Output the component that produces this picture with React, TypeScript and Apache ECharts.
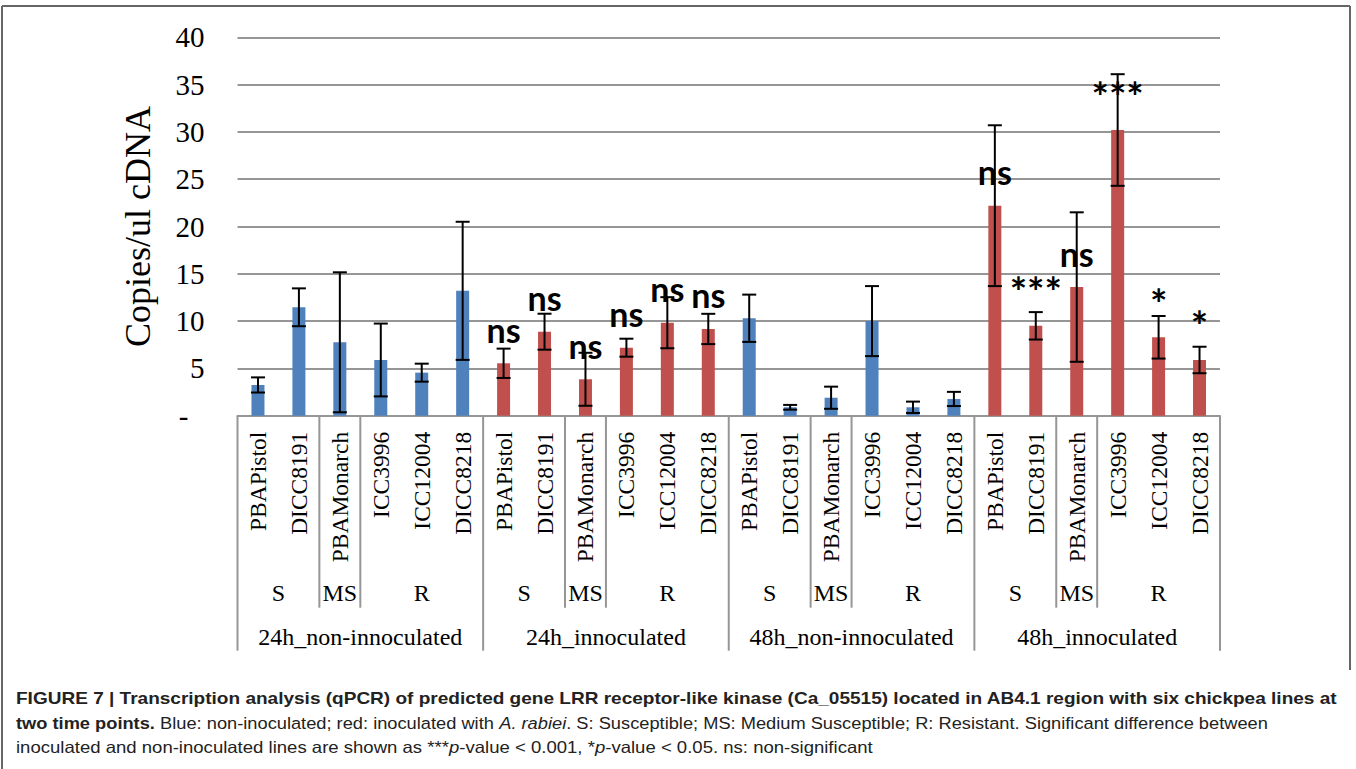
import React, { useEffect, useRef } from "react";
import * as echarts from "echarts";

// ---- data ----
const lines = ["PBAPistol", "DICC8191", "PBAMonarch", "ICC3996", "ICC12004", "DICC8218"];
const groups = ["24h_non-innoculated", "24h_innoculated", "48h_non-innoculated", "48h_innoculated"];
const groupInoculated = [false, true, false, true];
const resistance = ["S", "MS", "R"];
const resistanceSpan = [2, 1, 3];
const categories = groups.flatMap(() => lines);
const values = [
  3.25, 11.46, 7.76, 5.89, 4.55, 13.2,
  5.54, 8.88, 3.85, 7.19, 9.83, 9.17,
  10.3, 0.89, 1.9, 10.0, 0.89, 1.77,
  22.2, 9.5, 13.6, 30.2, 8.29, 5.89,
];
const errors = [
  0.8, 2.0, 7.4, 3.85, 0.95, 7.3,
  1.55, 1.9, 2.8, 0.95, 2.7, 1.6,
  2.5, 0.25, 1.17, 3.7, 0.6, 0.75,
  8.5, 1.45, 7.9, 5.9, 2.25, 1.4,
];
const annotations = [
  "", "", "", "", "", "",
  "ns", "ns", "ns", "ns", "ns", "ns",
  "", "", "", "", "", "",
  "ns", "***", "ns", "***", "*", "*",
];
const yTicks = { min: 0, max: 40, interval: 5 };
const yName = "Copies/ul cDNA";
const captionLine1 =
  "FIGURE 7 | Transcription analysis (qPCR) of predicted gene LRR receptor-like kinase (Ca_05515) located in AB4.1 region with six chickpea lines at";
const captionLine2 =
  "{b|two time points. }{r|Blue: non-inoculated; red: inoculated with }{i|A. rabiei}{r|. S: Susceptible; MS: Medium Susceptible; R: Resistant. Significant difference between}";
const captionLine3 =
  "{r|inoculated and non-inoculated lines are shown as ***}{i|p}{r|-value < 0.001, *}{i|p}{r|-value < 0.05. ns: non-significant}";

const BLUE = "#4F81BD";
const RED = "#C0504D";
const GRID = "#969696";
const SERIF = "'Liberation Serif', 'Times New Roman', serif";
const SANS = "'Liberation Sans', Arial, sans-serif";

export default function App() {
  const ref = useRef<HTMLDivElement>(null);
  useEffect(() => {
    const el = ref.current!;
    const chart = echarts.init(el, null, { renderer: "svg" });
    const colors = categories.map((_, i) => (groupInoculated[Math.floor(i / lines.length)] ? RED : BLUE));
    const option: any = {
      animation: false,
      grid: { left: 237.5, right: 136, top: 37.3, bottom: 353.3 },
      xAxis: {
        type: "category",
        data: categories,
        axisLine: { show: true, lineStyle: { color: GRID, width: 2 } },
        axisTick: { show: false },
        axisLabel: {
          interval: 0,
          rotate: 90,
          margin: 16,
          fontFamily: SERIF,
          fontSize: 23.5,
          color: "#000",
        },
      },
      yAxis: {
        type: "value",
        min: yTicks.min,
        max: yTicks.max,
        interval: yTicks.interval,
        axisLine: { show: false },
        axisTick: { show: false },
        splitLine: { lineStyle: { color: GRID, width: 2 } },
        axisLabel: {
          margin: 33,
          fontFamily: SERIF,
          fontSize: 29,
          color: "#000",
          formatter: (v: number) => (v === 0 ? "{d|-}" : String(v)),
          rich: { d: { fontFamily: SERIF, fontSize: 29, color: "#000", padding: [0, 16, 0, 0] } },
        },
      },
      series: [
        {
          type: "bar",
          barWidth: 13,
          data: values.map((v, i) => ({ value: v, itemStyle: { color: colors[i] } })),
        },
        {
          type: "custom",
          z: 5,
          encode: { x: 0, y: 1 },
          data: values.map((v, i) => [i, v, errors[i]]),
          renderItem: (params: any, api: any) => {
            const i = api.value(0);
            const v = api.value(1);
            const e = api.value(2);
            const top = api.coord([i, v + e]);
            const bot = api.coord([i, v - e]);
            const mid = api.coord([i, v]);
            const half = 7;
            const st = { stroke: "#000", lineWidth: 2 };
            const children: any[] = [
              { type: "line", shape: { x1: top[0], y1: top[1], x2: bot[0], y2: bot[1] }, style: st },
              { type: "line", shape: { x1: top[0] - half, y1: top[1], x2: top[0] + half, y2: top[1] }, style: st },
              { type: "line", shape: { x1: bot[0] - half, y1: bot[1], x2: bot[0] + half, y2: bot[1] }, style: st },
            ];
            const a = annotations[params.dataIndex];
            if (a) {
              const star = a.indexOf("*") >= 0;
              children.push({
                type: "text",
                x: mid[0],
                y: mid[1] - 34,
                style: {
                  text: a,
                  align: "center",
                  verticalAlign: "middle",
                  fontFamily: "Lato, sans-serif",
                  fontWeight: "bold",
                  fontSize: star ? 41 : 34,
                  fill: "#000",
                },
              });
            }
            return { type: "group", children };
          },
        },
      ],
    };
    chart.setOption(option);

    const c0 = chart.convertToPixel({ xAxisIndex: 0 }, 0) as number;
    const c1 = chart.convertToPixel({ xAxisIndex: 0 }, 1) as number;
    const w = c1 - c0;
    const bx = (b: number) => c0 - w / 2 + b * w;
    const yBase = chart.convertToPixel({ yAxisIndex: 0 }, 0) as number;
    const yTop = chart.convertToPixel({ yAxisIndex: 0 }, yTicks.max) as number;
    const lvl2Bottom = yBase + 192;
    const lvl3Bottom = yBase + 235;
    const lvl2Y = yBase + 177;
    const lvl3Y = yBase + 221;
    const sepStyle = { stroke: GRID, lineWidth: 2 };
    const g: any[] = [];
    groups.forEach((name, gi) => {
      const start = gi * lines.length;
      g.push({ type: "line", shape: { x1: bx(start), y1: yBase, x2: bx(start), y2: lvl3Bottom }, style: sepStyle });
      let b = start;
      resistance.forEach((r, ri) => {
        const span = resistanceSpan[ri];
        if (ri > 0) {
          g.push({ type: "line", shape: { x1: bx(b), y1: yBase, x2: bx(b), y2: lvl2Bottom }, style: sepStyle });
        }
        g.push({
          type: "text",
          x: (bx(b) + bx(b + span)) / 2,
          y: lvl2Y,
          style: { text: r, align: "center", verticalAlign: "middle", fontFamily: SERIF, fontSize: 24, fill: "#000" },
        });
        b += span;
      });
      g.push({
        type: "text",
        x: (bx(start) + bx(start + lines.length)) / 2,
        y: lvl3Y,
        style: { text: name, align: "center", verticalAlign: "middle", fontFamily: SERIF, fontSize: 24, fill: "#000" },
      });
    });
    const end = categories.length;
    g.push({ type: "line", shape: { x1: bx(end), y1: yBase, x2: bx(end), y2: lvl3Bottom }, style: sepStyle });
    // y axis name
    g.push({
      type: "text",
      x: 138,
      y: (yBase + yTop) / 2,
      rotation: Math.PI / 2,
      style: { text: yName, align: "center", verticalAlign: "middle", fontFamily: SERIF, fontSize: 36, fill: "#000" },
    });
    // frame
    const fr = { stroke: "#666", lineWidth: 2 };
    g.push({ type: "line", shape: { x1: 2, y1: 6, x2: 1350, y2: 6 }, style: fr });
    g.push({ type: "line", shape: { x1: 2, y1: 6, x2: 2, y2: 769 }, style: fr });
    g.push({ type: "line", shape: { x1: 1350, y1: 6, x2: 1350, y2: 670 }, style: fr });
    // caption
    const CAP = 16.5;
    const capFont = { fontFamily: SANS, fontSize: CAP, fill: "#222" };
    g.push({
      type: "text",
      x: 16,
      y: 698,
      scaleX: 1.154,
      style: { text: captionLine1, verticalAlign: "middle", ...capFont, fontWeight: "bold" },
    });
    const rich = {
      b: { fontFamily: SANS, fontSize: CAP, fontWeight: "bold", color: "#222" },
      r: { fontFamily: SANS, fontSize: CAP, color: "#222" },
      i: { fontFamily: SANS, fontSize: CAP, fontStyle: "italic", color: "#222" },
    };
    g.push({ type: "text", x: 16, y: 723, scaleX: 1.107, style: { text: captionLine2, verticalAlign: "middle", rich, ...capFont } });
    g.push({ type: "text", x: 16, y: 747, scaleX: 1.124, style: { text: captionLine3, verticalAlign: "middle", rich, ...capFont } });
    chart.setOption({ graphic: g });

    return () => chart.dispose();
  }, []);
  return <div ref={ref} style={{ position: "absolute", left: 0, top: 0, width: 1356, height: 769, background: "#fff" }} />;
}
